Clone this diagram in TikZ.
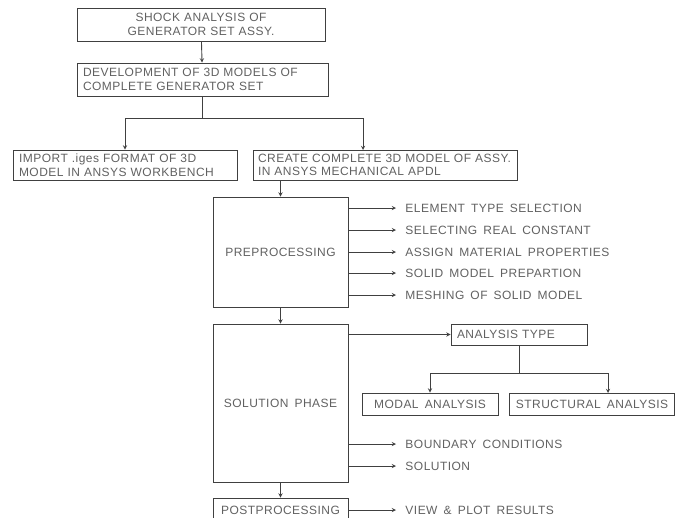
\documentclass[tikz,border=0pt]{standalone}
\usepackage{fontspec}
\setmainfont{Liberation Sans}[LetterSpace=4,WordSpace=1.6]
\usetikzlibrary{positioning,arrows}
\definecolor{inkgray}{gray}{0.25}
\definecolor{txtgray}{gray}{0.38}

\begin{document}
\begin{tikzpicture}
        [x = 1pt, y = -1pt,
            > = stealth,
            line width = 0.9pt,
            draw = inkgray,
            font = \fontsize{12}{13.5}\selectfont,
            box/.style = {rectangle, draw=inkgray, text=txtgray, inner xsep=6pt, inner ysep=0pt},
            item/.style = {anchor=west, text=txtgray, inner sep=4pt},
            out arrow/.style = {->, shorten > = 5pt}]

        \useasboundingbox (0,0) rectangle (685,517);
        \clip (0,0) rectangle (685,517);

        % main column
        \node[box, text width=236pt, minimum height=33pt, align=center] (shock) at (201,24.5)
            {SHOCK ANALYSIS OF\\GENERATOR SET ASSY.};
        \node[box, text width=239pt, minimum height=33pt, align=left] (models) at (202.5,79.5)
            {DEVELOPMENT OF 3D MODELS OF\\COMPLETE GENERATOR SET};
        \node[box, text width=212pt, minimum height=30pt, align=left] (iges) at (125,165)
            {IMPORT .iges FORMAT OF 3D\\MODEL IN ANSYS WORKBENCH};
        \node[box, inner xsep=5pt, text width=254pt, minimum height=30pt, align=left] (apdl) at (385,165)
            {CREATE COMPLETE 3D MODEL OF ASSY.\\IN ANSYS MECHANICAL APDL};
        \node[box, minimum width=135pt, minimum height=110pt] (pre) at (280.5,252) {PREPROCESSING};
        \node[box, minimum width=135pt, minimum height=158pt] (sol) at (280.5,403) {SOLUTION PHASE};
        \node[box, minimum width=135pt, minimum height=25pt] (post) at (280.5,510.5) {POSTPROCESSING};

        % analysis branch
        \node[box, text width=124pt, minimum height=21pt, align=left] (type) at (519,334.5) {ANALYSIS TYPE};
        \node[box, minimum width=136pt, minimum height=22pt] (modal) at (430,404) {MODAL ANALYSIS};
        \node[box, minimum width=164pt, minimum height=22pt] (struct) at (592,404) {STRUCTURAL ANALYSIS};

        % side items
        \node[item] (elem) at (401,208) {ELEMENT TYPE SELECTION};
        \node[item] (real) at (401,230) {SELECTING REAL CONSTANT};
        \node[item] (mat) at (401,252) {ASSIGN MATERIAL PROPERTIES};
        \node[item] (solid) at (401,273) {SOLID MODEL PREPARTION};
        \node[item] (mesh) at (401,295) {MESHING OF SOLID MODEL};
        \node[item] (bound) at (401,444) {BOUNDARY CONDITIONS};
        \node[item] (solve) at (401,466) {SOLUTION};
        \node[item] (view) at (401,510) {VIEW \& PLOT RESULTS};

        \coordinate (split) at (202.5,118);
        \coordinate (apdl in) at (363,150);
        \coordinate (split2) at (519,373);
        \coordinate (struct in) at (608,393);

        \draw[->] (shock) -- (models);
        \draw (models) -- (split);
        \draw[->] (split) -| (iges);
        \draw[->] (split) -| (apdl in);
        \draw[->] (pre.north |- apdl.south) -- (pre);
        \draw[->] (pre) -- (sol);
        \draw[->] (sol) -- (post);

        \foreach \n in {elem, real, mat, solid, mesh}
            \draw[out arrow] (pre.east |- \n.west) -- (\n.west);
        \foreach \n in {bound, solve}
            \draw[out arrow] (sol.east |- \n.west) -- (\n.west);
        \draw[out arrow] (post.east |- view.west) -- (view.west);

        \draw[->] (sol.east |- type.west) -- (type.west);
        \draw (type) -- (split2);
        \draw[->] (split2) -| (modal);
        \draw[->] (split2) -| (struct in);
    \end{tikzpicture}
\end{document}
